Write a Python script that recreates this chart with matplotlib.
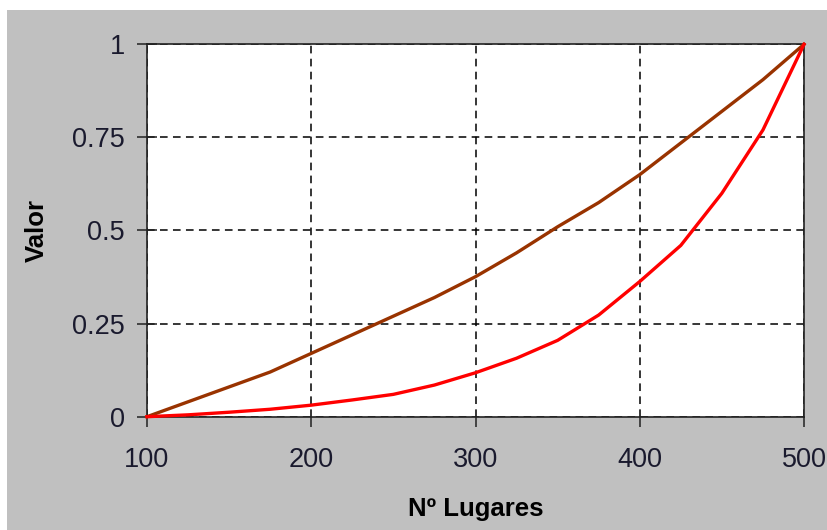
import matplotlib.pyplot as plt
from matplotlib.patches import Rectangle

# data
lugares = [100, 125, 150, 175, 200, 225, 250, 275, 300, 325, 350, 375, 400, 425, 450, 475, 500]
valor_marron = [0, 0.04, 0.08, 0.12, 0.17, 0.22, 0.27, 0.32, 0.376, 0.44, 0.51, 0.575, 0.65, 0.735, 0.82, 0.905, 1]
valor_rojo = [0, 0.005, 0.012, 0.02, 0.031, 0.045, 0.06, 0.085, 0.118, 0.157, 0.205, 0.273, 0.363, 0.46, 0.6, 0.77, 1]
xticks = [100, 200, 300, 400, 500]
yticks = [0, 0.25, 0.5, 0.75, 1]
ytick_labels = ["0", "0.25", "0.5", "0.75", "1"]

plt.rcParams['font.family'] = ['Liberation Sans', 'DejaVu Sans']

fig = plt.figure(figsize=(8.27, 5.30), dpi=100)
fig.patch.set_facecolor('white')
# grey chart area (the reference has a thin white margin top and left)
fig.patches.append(Rectangle((7 / 827, 0), 1, 1 - 10 / 530, transform=fig.transFigure,
                             facecolor='#c0c0c0', edgecolor='none', zorder=-10))

ax = fig.add_axes([147 / 827, 1 - 416.7 / 530, (804 - 147) / 827, (416.7 - 44.3) / 530])
ax.set_facecolor('white')

ax.plot(lugares, valor_marron, color='#993300', lw=2.4, zorder=3, clip_on=False)
ax.plot(lugares, valor_rojo, color='#ff0000', lw=2.4, zorder=4, clip_on=False)

ax.set_xlim(100, 500)
ax.set_ylim(0, 1)
ax.set_xticks(xticks)
ax.set_yticks(yticks)
ax.set_yticklabels(ytick_labels)

ax.grid(True, color='black', linestyle=(0, (5, 3.5)), lw=1.1)
ax.set_axisbelow(True)

for s in ax.spines.values():
    s.set_color('#222222')
    s.set_linewidth(1.2)

ax.tick_params(axis='both', width=1.1, color='#222222', labelsize=19.5, labelcolor='#1a1a2e')
ax.tick_params(axis='x', direction='out', length=7, pad=15)
ax.tick_params(axis='y', direction='inout', length=14, pad=9)

ax.set_xlabel('Nº Lugares', fontsize=18.5, fontweight='bold', labelpad=17)
ax.set_ylabel('Valor', fontsize=18.5, fontweight='bold', labelpad=17)

fig.savefig('out.png', dpi=100)
